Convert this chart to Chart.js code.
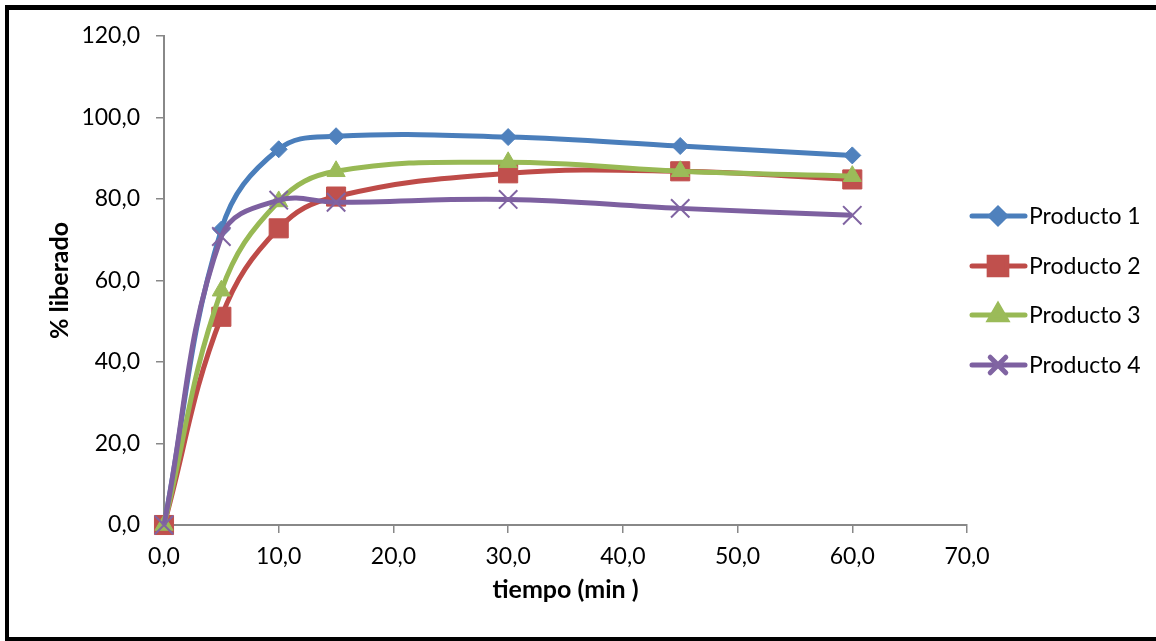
<!DOCTYPE html>
<html>
<head>
<meta charset="utf-8">
<title>% liberado vs tiempo</title>
<script src="https://cdn.jsdelivr.net/npm/chart.js@4"></script>
<style>
  html, body { margin: 0; padding: 0; background: #fff; }
  #wrap { width: 1156px; height: 641px; position: relative; }
</style>
</head>
<body>
<div id="wrap"><canvas id="chart" width="1156" height="641"></canvas></div>
<script>
// Datos: tiempo (min) y % liberado de cada producto
const tiempos = [0, 5, 10, 15, 30, 45, 60];
const producto1 = [0, 72.5, 92.2, 95.4, 95.2, 93.0, 90.7];
const producto2 = [0, 51.1, 72.8, 80.6, 86.3, 86.8, 84.8];
const producto3 = [0, 57.5, 79.4, 86.8, 89.0, 86.8, 85.6];
const producto4 = [0, 70.8, 79.7, 79.2, 79.9, 77.7, 76.0];
const nombres = ['Producto 1', 'Producto 2', 'Producto 3', 'Producto 4'];

const FONT = 'Lato, "Open Sans", sans-serif';
const AXIS_GRAY = '#888888';

// Estilo de cada serie (línea, marcador)
const estilos = [
    { line: '#4A7EBB', fill: '#4F81BD', point: 'rectRot', radius: 8.5 },
    { line: '#BE4B48', fill: '#C0504D', point: 'rect', radius: 13.5 },
    { line: '#98B954', fill: '#9BBB59', point: 'triangle', radius: 10.5 },
    { line: '#7D60A0', fill: '#8064A2', point: 'crossRot', radius: 13 }
];

function puntos(valores) {
    return tiempos.map((t, i) => ({ x: t, y: valores[i] }));
}

const series = [producto1, producto2, producto3, producto4];
const datasets = series.map((valores, i) => {
    const e = estilos[i];
    return {
        label: nombres[i],
        data: puntos(valores),
        borderColor: e.line,
        backgroundColor: e.fill,
        borderWidth: 5,
        tension: 0.4,
        pointStyle: e.point,
        pointRadius: e.radius,
        pointBackgroundColor: e.fill,
        pointBorderColor: e.fill,
        pointBorderWidth: e.point === 'crossRot' ? 2 : 1,
        clip: false,
        // la última serie queda por encima
        order: series.length - 1 - i
    };
});

// Formato con coma decimal: 20 -> "20,0"
const fmt = v => Number(v).toFixed(1).replace('.', ',');

// Marco negro alrededor del gráfico
const marco = {
    id: 'marco',
    afterDraw(chart) {
        const ctx = chart.ctx;
        ctx.save();
        ctx.fillStyle = '#000';
        ctx.fillRect(5, 5, 1151, 5);    // arriba
        ctx.fillRect(5, 5, 4, 636);     // izquierda
        ctx.fillRect(5, 637, 1151, 4);  // abajo
        ctx.restore();
    }
};

// Leyenda a la derecha: línea con marcador + texto
const leyenda = {
    id: 'leyenda',
    afterDraw(chart) {
        const ctx = chart.ctx;
        const ys = [216, 266, 315, 365];
        ctx.save();
        chart.data.datasets.forEach((ds, i) => {
            const y = ys[i];
            const e = estilos[i];
            ctx.strokeStyle = e.line;
            ctx.lineWidth = 5;
            ctx.lineCap = 'round';
            ctx.beginPath();
            ctx.moveTo(972, y);
            ctx.lineTo(1025, y);
            ctx.stroke();
            ctx.fillStyle = e.fill;
            ctx.strokeStyle = e.fill;
            Chart.helpers.drawPoint(ctx, {
                pointStyle: e.point,
                radius: e.point === 'crossRot' ? 11 : e.radius - 1,
                borderWidth: e.point === 'crossRot' ? 2 : 1,
                rotation: 0
            }, 998, y);
            ctx.fillStyle = '#000';
            ctx.font = '23px ' + FONT;
            ctx.textBaseline = 'middle';
            ctx.textAlign = 'left';
            ctx.fillText(ds.label, 1029, y + 1);
        });
        ctx.restore();
    }
};

new Chart(document.getElementById('chart'), {
    type: 'line',
    data: { datasets },
    options: {
        responsive: false,
        animation: false,
        events: [],
        layout: { autoPadding: false, padding: { top: 36, right: 189, left: 0, bottom: 0 } },
        plugins: { legend: { display: false }, tooltip: { enabled: false } },
        scales: {
            x: {
                type: 'linear',
                min: 0,
                max: 70,
                afterFit: s => { s.height = 116; },
                ticks: {
                    stepSize: 10,
                    callback: fmt,
                    color: '#000',
                    font: { family: FONT, size: 23 },
                    padding: 10,
                    maxRotation: 0
                },
                grid: { drawOnChartArea: false, drawTicks: true, tickLength: 8, color: AXIS_GRAY, lineWidth: 1.5 },
                border: { display: true, color: AXIS_GRAY, width: 2 },
                title: {
                    display: true,
                    text: 'tiempo (min )',
                    color: '#000',
                    font: { family: FONT, size: 25, weight: 'bold' },
                    padding: { top: 0, bottom: 36 }
                }
            },
            y: {
                min: 0,
                max: 120,
                afterFit: s => { s.width = 164; },
                ticks: {
                    stepSize: 20,
                    callback: fmt,
                    color: '#000',
                    font: { family: FONT, size: 23 },
                    padding: 16
                },
                grid: { drawOnChartArea: false, drawTicks: true, tickLength: 8, color: AXIS_GRAY, lineWidth: 1.5 },
                border: { display: true, color: AXIS_GRAY, width: 2 },
                title: {
                    display: true,
                    text: '% liberado',
                    color: '#000',
                    font: { family: FONT, size: 25, weight: 'bold' },
                    padding: { top: 45, bottom: 0 }
                }
            }
        }
    },
    plugins: [marco, leyenda]
});
</script>
</body>
</html>
